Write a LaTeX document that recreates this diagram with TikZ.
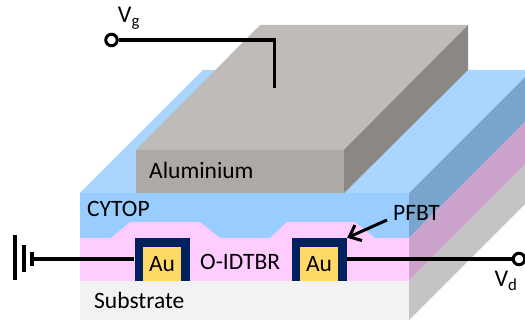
\documentclass[tikz,border=0pt]{standalone}
\usepackage{fontspec}
\setmainfont{Carlito}
\usetikzlibrary{arrows.meta}
\definecolor{cytop top}{HTML}{A9D5FF}
\definecolor{cytop front}{HTML}{99CCFF}
\definecolor{cytop side}{HTML}{79A5CC}
\definecolor{semi front}{HTML}{FFCCFF}
\definecolor{semi side}{HTML}{CCA3CC}
\definecolor{sub front}{HTML}{F2F2F2}
\definecolor{sub side}{HTML}{C4C4C4}
\definecolor{alu top}{HTML}{BFBBB9}
\definecolor{alu front}{HTML}{ADA9A7}
\definecolor{alu side}{HTML}{8B8785}
\definecolor{au navy}{HTML}{002060}
\definecolor{au gold}{HTML}{FFD966}
\tikzset{
    layer label/.style = {
        anchor = west,
        inner sep = 0pt,
        font = \fontsize{23.5}{28}\selectfont
    },
    volt label/.style = {
        anchor = center,
        inner sep = 0pt,
        font = \fontsize{24}{28}\selectfont
    },
    contact box/.style = {
        shape = rectangle,
        fill  = au navy,
        inner sep = 0pt,
        minimum width=55pt,
        minimum height=43pt
    },
    gold box/.style = {
        shape = rectangle,
        fill  = au gold,
        inner sep = 0pt,
        minimum width=38pt,
        minimum height=34pt,
        font = \fontsize{23.5}{28}\selectfont
    },
    terminal/.style = {
        shape = circle,
        draw  = black,
        fill  = white,
        line width = 3pt,
        inner sep = 0pt,
        minimum size = 11.5pt
    },
    ground bar/.style = {
        shape = rectangle,
        fill  = black,
        inner sep = 0pt,
        minimum width=3.6pt,
        minimum height=#1
    },
    wire/.style = {
        draw = black,
        line width = 3.6pt
    }
}

\begin{document}
\begin{tikzpicture}[x=1pt, y=-1pt, >={Straight Barb[length=10pt,width=17pt]}]
      \useasboundingbox (0,0) rectangle (525,320);
      \clip (0,0) rectangle (525,320);

      \fill[cytop top] (80,193) -- (203,70) -- (532,70) -- (409,193) -- cycle;
      \fill[cytop side] (409,193) -- (532,70) -- (532,115) -- (409,238) -- cycle;
      \fill[semi side] (409,238) -- (532,115) -- (532,158) -- (409,281) -- cycle;
      \fill[sub side] (409,281) -- (532,158) -- (532,197) -- (409,320) -- cycle;

      \fill[cytop front] (80,193) rectangle (409,238);
      \fill[semi front] (80,238) -- (111,238) -- (130,222) -- (200,222) -- (220,238)
          -- (270,238) -- (287,222) -- (355,222) -- (375,238) -- (409,238) -- (409,281) -- (80,281) -- cycle;
      \fill[sub front] (80,281) rectangle (409,320);

      \fill[alu top] (136,150) -- (260,25) -- (468,25) -- (344,150) -- cycle;
      \fill[alu side] (344,150) -- (468,25) -- (468,70) -- (344,193) -- cycle;
      \fill[alu front] (136,150) rectangle (344,193);

      \node at (149,170) [layer label] (aluminium) {Aluminium};
      \node at (87,209) [layer label] (cytop) {CYTOP};
      \node at (94,300) [layer label] (substrate) {Substrate};
      \node at (200,262) [layer label] (semi) {O-IDTBR};
      \node at (393,213) [layer label] (pfbt) {PFBT};

      \node at (162,259.5) [contact box] (left contact) {};
      \node at (319.5,259.5) [contact box] (right contact) {};
      \node at (162,264) [gold box] (left au) {Au};
      \node at (319,264) [gold box] (right au) {Au};

      \node at (15,258) [ground bar = 45pt] (ground a) {};
      \node at (24,258.5) [ground bar = 27pt] (ground b) {};
      \node at (32,259) [ground bar = 14pt] (ground c) {};
      \draw[wire] (ground c) -- (left contact.west |- ground c);

      \node at (519,259) [terminal] (drain) {};
      \draw[wire] (right contact.east |- drain) -- (drain);
      \node at (506,281) [volt label] (drain label) {V\textsubscript{d}};

      \node at (111.5,40) [terminal] (gate) {};
      \coordinate (gate end) at (274.5,88);
      \draw[wire] (gate end) |- (gate);
      \node at (129,18) [volt label] (gate label) {V\textsubscript{g}};

      \coordinate (pfbt tail) at (387,220);
      \draw[->, line width = 3pt] (pfbt tail) -- (right contact.north east);
\end{tikzpicture}
\end{document}
